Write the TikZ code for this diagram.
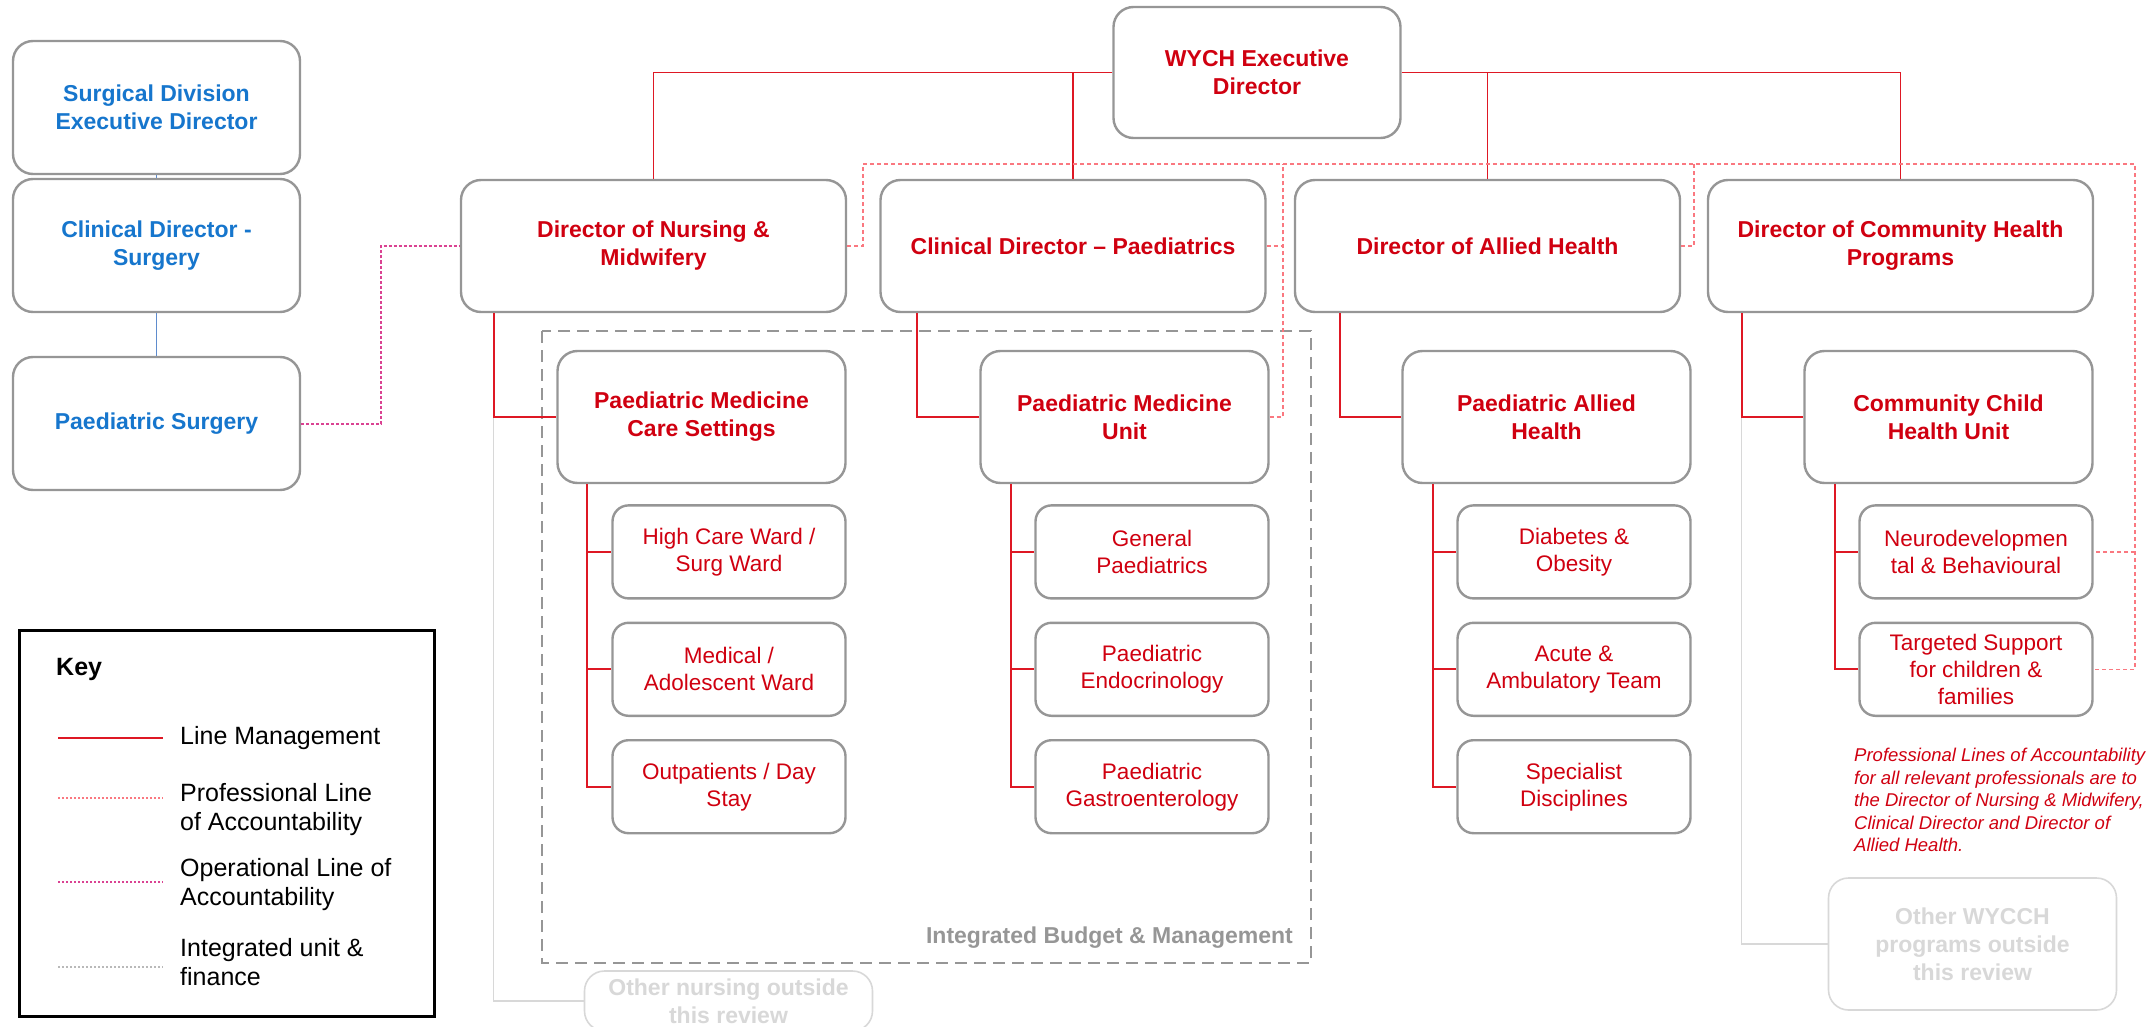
\documentclass[tikz,border=0pt]{standalone}
\usepackage{fontspec}
\setmainfont{Liberation Sans}
\usepackage{tikz}
\usetikzlibrary{positioning}

\definecolor{wyred}{RGB}{208,0,16}
\definecolor{lmred}{RGB}{222,24,36}
\definecolor{boxgray}{RGB}{150,150,150}
\definecolor{surgblue}{RGB}{22,118,205}
\definecolor{surgline}{RGB}{95,140,205}
\definecolor{profpink}{RGB}{250,120,128}
\definecolor{opmagenta}{RGB}{218,66,146}
\definecolor{intgray}{RGB}{150,150,150}
\definecolor{fadegray}{RGB}{216,216,216}

\begin{document}
\begin{tikzpicture}[
  x=1pt, y=-1pt,
  node distance=22pt,
  box/.style={draw=boxgray, line width=2.4pt, rounded corners=20pt, fill=white,
              align=center, inner sep=0pt},
  dirbox/.style={box, text=wyred, font=\bfseries\fontsize{23}{28}\selectfont,
                 minimum width=385pt, minimum height=132pt},
  unitbox/.style={dirbox, minimum width=288pt},
  leafbox/.style={box, rounded corners=16pt, text=wyred, font=\fontsize{22.5}{27}\selectfont,
                  minimum width=233pt, minimum height=93pt},
  surgbox/.style={dirbox, text=surgblue, minimum width=287pt, minimum height=133pt},
  fadedbox/.style={box, draw=fadegray, line width=1.6pt, text=fadegray,
                   font=\bfseries\fontsize{23}{28}\selectfont, minimum width=288pt},
  keytxt/.style={font=\fontsize{25}{29}\selectfont, align=left, anchor=west, inner sep=0pt},
  lmline/.style={draw=lmred, line width=1.8pt},
  faintline/.style={draw=fadegray, line width=1.2pt},
  surgconn/.style={draw=surgline, line width=1.3pt},
  profline/.style={draw=profpink, line width=1.4pt, dash pattern=on 4pt off 3pt},
  operline/.style={draw=opmagenta, line width=2pt, dash pattern=on 3pt off 2pt},
  integline/.style={draw=intgray, line width=2.6pt, dash pattern=on 12pt off 7pt}]

  \useasboundingbox (0,0) rectangle (2156,1027);
  \clip (0,0) rectangle (2156,1027);

  \node[dirbox, minimum width=287pt, minimum height=131pt] (exec) at (1257,72.5) {WYCH Executive\\Director};
  \node[dirbox] (nursing) at (653.5,246) {Director of Nursing \&\\Midwifery};
  \node[dirbox] (clindir) at (1073,246) {Clinical Director – Paediatrics};
  \node[dirbox] (allied) at (1487.5,246) {Director of Allied Health};
  \node[dirbox] (community) at (1900.5,246) {Director of Community Health\\Programs};

  \node[unitbox] (caresettings) at (701.5,417) {Paediatric Medicine\\Care Settings};
  \node[unitbox] (medunit) at (1124.5,417) {Paediatric Medicine\\Unit};
  \node[unitbox] (alliedunit) at (1546.5,417) {Paediatric Allied\\Health};
  \node[unitbox] (childunit) at (1948.5,417) {Community Child\\Health Unit};

  \node[leafbox, below=20pt of caresettings.south east, anchor=north east] (highcare) {High Care Ward /\\Surg Ward};
  \node[leafbox, below=of highcare] (adolescent) {Medical /\\Adolescent Ward};
  \node[leafbox, below=of adolescent] (daystay) {Outpatients / Day\\Stay};

  \node[leafbox, below=20pt of medunit.south east, anchor=north east] (genpaed) {General\\Paediatrics};
  \node[leafbox, below=of genpaed] (endo) {Paediatric\\Endocrinology};
  \node[leafbox, below=of endo] (gastro) {Paediatric\\Gastroenterology};

  \node[leafbox, below=20pt of alliedunit.south east, anchor=north east] (diabetes) {Diabetes \&\\Obesity};
  \node[leafbox, below=of diabetes] (ambulatory) {Acute \&\\Ambulatory Team};
  \node[leafbox, below=of ambulatory] (specialist) {Specialist\\Disciplines};

  \node[leafbox, below=20pt of childunit.south east, anchor=north east] (neuro) {Neurodevelopmen\\tal \& Behavioural};
  \node[leafbox, below=of neuro] (targeted) {Targeted Support\\for children \&\\families};

  \node[surgbox] (surgdiv) at (156.5,107.5) {Surgical Division\\Executive Director};
  \node[surgbox] (clinsurg) at (156.5,245.5) {Clinical Director -\\Surgery};
  \node[surgbox] (paedsurg) at (156.5,423.5) {Paediatric Surgery};

  \node[fadedbox, minimum height=60pt] (othernursing) at (728.5,1001) {Other nursing outside\\this review};
  \node[fadedbox, minimum height=132pt] (otherprograms) at (1972.5,944) {Other WYCCH\\programs outside\\this review};

  \node[anchor=north west, text=wyred, font=\itshape\fontsize{18.5}{22.5}\selectfont,
        align=left, inner sep=0pt] (note) at (1854,748)
    {Professional Lines of Accountability\\for all relevant professionals are to\\the Director of Nursing \& Midwifery,\\Clinical Director and Director of\\Allied Health.};

  \draw[integline] (542,331) rectangle (1311,963);
  \node[anchor=east, text=intgray, font=\bfseries\fontsize{23}{28}\selectfont, inner sep=0pt]
    (intlabel) at (1293,938) {Integrated Budget \& Management};

  % key
  \node[draw=black, line width=3pt, minimum width=415pt, minimum height=386pt, inner sep=0pt] (key) at (226.5,823) {};
  \node[keytxt, font=\bfseries\fontsize{25}{29}\selectfont] (keytitle) at (56,669) {Key};
  \node[keytxt] (keylm) at (180,738) {Line Management};
  \node[keytxt] (keyprof) at (180,810) {Professional Line\\of Accountability};
  \node[keytxt] (keyoper) at (180,885) {Operational Line of\\Accountability};
  \node[keytxt] (keyint) at (180,962) {Integrated unit \&\\finance};
  \draw[lmline] ([xshift=-122pt]keylm.west) -- ([xshift=-17pt]keylm.west);
  \draw[profline, dash pattern=on 2pt off 2pt] ([xshift=-122pt,yshift=12pt]keyprof.west) -- ([xshift=-17pt,yshift=12pt]keyprof.west);
  \draw[operline, dash pattern=on 2pt off 2pt] ([xshift=-122pt,yshift=3pt]keyoper.west) -- ([xshift=-17pt,yshift=3pt]keyoper.west);
  \draw[draw=gray!55, line width=1.6pt, dash pattern=on 2pt off 2pt] ([xshift=-122pt,yshift=-5pt]keyint.west) -- ([xshift=-17pt,yshift=-5pt]keyint.west);

  % line management
  \draw[faintline] ([xshift=34pt]nursing.south west) |- (othernursing.west);
  \draw[faintline] ([xshift=35pt]community.south west) |- (otherprograms.west);
  \draw[lmline] (exec.west) -| (nursing.north);
  \draw[lmline] (exec.west) -| (clindir.north);
  \draw[lmline] (exec.east) -| (allied.north);
  \draw[lmline] (exec.east) -| (community.north);
  \draw[lmline] ([xshift=34pt]nursing.south west) |- (caresettings.west);
  \draw[lmline] ([xshift=38pt]clindir.south west) |- (medunit.west);
  \draw[lmline] ([xshift=46pt]allied.south west) |- (alliedunit.west);
  \draw[lmline] ([xshift=35pt]community.south west) |- (childunit.west);
  \draw[lmline] ([xshift=31pt]caresettings.south west) |- (highcare.west);
  \draw[lmline] ([xshift=31pt]caresettings.south west) |- (adolescent.west);
  \draw[lmline] ([xshift=31pt]caresettings.south west) |- (daystay.west);
  \draw[lmline] ([xshift=32pt]medunit.south west) |- (genpaed.west);
  \draw[lmline] ([xshift=32pt]medunit.south west) |- (endo.west);
  \draw[lmline] ([xshift=32pt]medunit.south west) |- (gastro.west);
  \draw[lmline] ([xshift=32pt]alliedunit.south west) |- (diabetes.west);
  \draw[lmline] ([xshift=32pt]alliedunit.south west) |- (ambulatory.west);
  \draw[lmline] ([xshift=32pt]alliedunit.south west) |- (specialist.west);
  \draw[lmline] ([xshift=32pt]childunit.south west) |- (neuro.west);
  \draw[lmline] ([xshift=32pt]childunit.south west) |- (targeted.west);

  \draw[surgconn] (surgdiv) -- (clinsurg);
  \draw[surgconn] (clinsurg) -- (paedsurg);
  \draw[operline] (paedsurg.east) -- ++(80pt,0pt) |- (nursing.west);

  % professional accountability
  \coordinate (profleft) at (863,164);
  \coordinate (profmid) at (1283,164);
  \coordinate (profallied) at (1694,164);
  \coordinate (profright) at (2135,164);
  \draw[profline] (nursing.east) -| (profleft) -- (profright) |- (targeted.east);
  \draw[profline] (profright |- neuro.east) -- (neuro.east);
  \draw[profline] (clindir.east) -| (profmid);
  \draw[profline] (medunit.east) -| (profmid);
  \draw[profline] (allied.east) -| (profallied);
\end{tikzpicture}
\end{document}
